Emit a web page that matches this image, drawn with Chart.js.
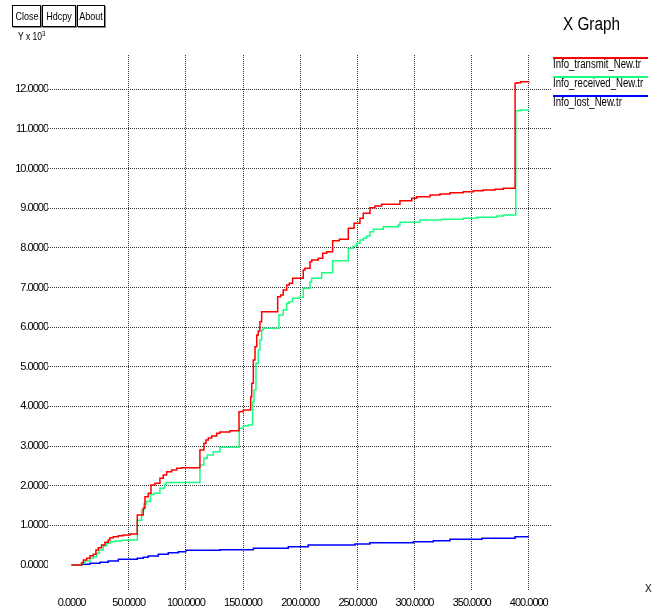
<!DOCTYPE html>
<html>
<head>
<meta charset="utf-8">
<title>X Graph</title>
<script src="https://cdn.jsdelivr.net/npm/chart.js@4/dist/chart.umd.min.js"></script>
<style>
  body { margin: 0; background: #fff; }
  #wrap { position: relative; width: 659px; height: 612px; overflow: hidden;
          font-family: 'Liberation Sans', Arial, sans-serif; color: #000; line-height: 1; }
  #chart { position: absolute; left: 0; top: 0; }
  .btn { position: absolute; top: 5px; height: 20px; border: 1px solid #000; box-shadow: 1px 1px 0 #888;
         background: #fff; overflow: hidden; }
  .btn span { position: absolute; left: 50%; top: 5px; font-size: 11px; white-space: nowrap;
              transform: translateX(-50%) scaleX(0.82); }
  .sq { position: absolute; white-space: nowrap; transform-origin: 0 0; }
  #ylab { left: 18px; top: 30px; font-size: 10px; transform: scaleX(0.85); }
  #ylab sup { font-size: 7px; vertical-align: 4px; }
  #title { left: 563px; top: 15px; font-size: 18px; transform: scaleX(0.85); }
  #xlab { left: 645px; top: 584px; font-size: 10px; }
  .key { position: absolute; left: 553px; width: 95px; height: 2px; }
  .keytxt { font-size: 12px; left: 553px; transform: scaleX(0.8); }
</style>
</head>
<body>
<div id="wrap">
  <canvas id="chart" width="659" height="612"></canvas>
  <div class="btn" style="left:12px;width:27px;"><span>Close</span></div>
  <div class="btn" style="left:42px;width:32px;"><span>Hdcpy</span></div>
  <div class="btn" style="left:77px;width:26px;"><span>About</span></div>
  <div id="ylab" class="sq">Y x 10<sup>3</sup></div>
  <div id="title" class="sq">X Graph</div>
  <div id="xlab" class="sq">X</div>
  <div id="legend"></div>
</div>
<script>
// axis ticks
const xTicks = [0, 50, 100, 150, 200, 250, 300, 350, 400];
const yTicks = [0, 1000, 2000, 3000, 4000, 5000, 6000, 7000, 8000, 9000, 10000, 11000, 12000];

// series names / colours
const seriesNames = ["Info_transmit_New.tr", "Info_received_New.tr", "Info_lost_New.tr"];
const seriesColors = ["#ff0000", "#1aff80", "#0000ff"];

// Info_transmit_New.tr
const transmitT = [0, 8.8, 10.3, 13.2, 16.1, 19, 21.3, 23.4, 26.3, 29.2, 32.1, 33.6, 36.5, 40.9, 45.2, 51.1,
  57.5, 62.7, 64.2, 67.1, 69.5, 73, 77.3, 80.2, 83.2, 87.6, 92, 96.3, 112.3, 115.8, 117.6, 119.6, 122.6, 127,
  129.8, 138.6, 146.5, 150.2, 156.7, 157.6, 159, 160.5, 162, 163.3, 164.8, 166.3, 180.3, 183, 185.2, 188.2,
  190.5, 193.4, 202.7, 204.2, 208.6, 210.1, 215.8, 219.7, 223.2, 228.4, 234.2, 242.1, 247.1, 252.3, 255.2,
  261.1, 265.4, 271.3, 287.3, 297.6, 301.9, 313.6, 322.3, 331.1, 342.7, 351.5, 360.2, 370.4, 377.7, 388,
  389.4, 392.9, 400];
const transmitV = [0, 58, 126, 169, 235, 270, 378, 436, 505, 573, 631, 689, 714, 739, 757, 782,
  1261, 1430, 1723, 1809, 2018, 2061, 2187, 2270, 2354, 2397, 2439, 2455, 2901, 3070, 3153, 3204, 3254, 3322,
  3355, 3388, 3867, 3910, 4246, 4584, 5172, 5507, 5802, 5903, 6138, 6390, 6768, 6811, 6937, 7064,
  7107, 7233, 7442, 7485, 7652, 7694, 7737, 7863, 7904, 8181, 8216, 8494, 8620, 8746, 8872,
  9014, 9056, 9099, 9190, 9251, 9291, 9334, 9359, 9392, 9417, 9442, 9460, 9478, 9503, 12152,
  12167, 12193, 12210];

// Info_received_New.tr
const receivedT = [0, 8.8, 11.7, 16.1, 19, 22, 24.2, 27.7, 30.7, 33.6, 38, 43.8, 49.6, 57.5, 61.3, 63.3,
  65.2, 69, 71.9, 77.3, 81.3, 82.8, 112.3, 115.8, 118.7, 124, 129.8, 146.7, 150.2, 154.6, 158.4, 159.6,
  161.3, 163.3, 164.8, 166.3, 167.7, 181.4, 185.2, 188.2, 190.5, 193.4, 199.2, 202.7, 208.6, 210.1, 218.8,
  228.4, 242.1, 246.5, 249.4, 252.3, 255.2, 258.2, 261.1, 264, 272.7, 285.8, 287.3, 304.8, 323.8, 342.7,
  354.4, 371.9, 377.7, 388.6, 392.3, 400];
const receivedV = [0, 43, 101, 169, 210, 295, 378, 487, 547, 588, 605, 623, 631, 1130, 1380, 1540,
  1600, 1780, 1809, 1935, 2030, 2080, 2523, 2692, 2775, 2858, 2969, 3449, 3507, 3532, 4120, 4415,
  5088, 5424, 5676, 5928, 5971, 6307, 6433, 6602, 6642, 6728, 6753, 6980, 7147, 7233, 7374,
  7677, 7989, 8047, 8116, 8199, 8242, 8300, 8408, 8469, 8534, 8577, 8645, 8703, 8721, 8746,
  8771, 8804, 8830, 11461, 11478, 11503];

// Info_lost_New.tr
const lostT = [0, 8.8, 16.1, 24.8, 32.1, 40.9, 57.5, 62.7, 67.1, 75.9, 84.6, 93.4, 100.1, 129.8, 159,
  189.6, 207, 248, 261, 299, 316.5, 331, 359, 388, 400];
const lostV = [0, 18, 43, 68, 101, 144, 169, 194, 227, 270, 310, 336, 371, 386, 421,
  462, 505, 530, 563, 588, 613, 648, 674, 714, 714];

const tickFont = { family: "'Liberation Sans', Arial, sans-serif", size: 11 };
const gridColor = c => (c.tick && c.tick.value === 0) ? 'rgba(0,0,0,0)' : '#333';

function pts(t, v) { return t.map((x, i) => ({ x: x, y: v[i] })); }

const allT = [transmitT, receivedT, lostT];
const allV = [transmitV, receivedV, lostV];

// tick labels of the original are a narrow font: tighten the spacing
const tightText = {
  id: "tightText",
  beforeDraw(chart) { chart.ctx.letterSpacing = "-1px"; }
};

new Chart(document.getElementById("chart").getContext("2d"), {
  type: "line",
  data: {
    datasets: seriesNames.map((name, i) => ({
      label: name,
      data: pts(allT[i], allV[i]),
      borderColor: seriesColors[i],
      borderWidth: 1.5,
      pointRadius: 0,
      stepped: true,
      fill: false
    }))
  },
  options: {
    responsive: false,
    animation: false,
    devicePixelRatio: 1,
    layout: { padding: { left: 0, right: 107, top: 55, bottom: 0 } },
    plugins: { legend: { display: false }, tooltip: { enabled: false } },
    scales: {
      x: {
        type: "linear",
        min: -20.6,
        max: 420.3,
        afterBuildTicks: s => { s.ticks = xTicks.map(v => ({ value: v })); },
        afterFit: s => { s.height = 22; },
        ticks: { callback: v => Number(v).toFixed(4), font: tickFont, color: "#000", padding: 6, maxRotation: 0, autoSkip: false },
        grid: { color: gridColor, drawTicks: false, lineWidth: 1 },
        border: { display: false, dash: [1, 1] }
      },
      y: {
        type: "linear",
        min: -631,
        max: 12866,
        afterBuildTicks: s => { s.ticks = yTicks.map(v => ({ value: v })); },
        afterFit: s => { s.width = 48; },
        ticks: { callback: v => (v / 1000).toFixed(4), font: tickFont, color: "#000", padding: 0, autoSkip: false },
        grid: { color: gridColor, drawTicks: false, lineWidth: 1 },
        border: { display: false, dash: [1, 1] }
      }
    }
  },
  plugins: [tightText]
});

// legend: coloured line above each name
const legend = document.getElementById("legend");
const keyTop = [56.5, 76, 94.5];
seriesNames.forEach((name, i) => {
  legend.innerHTML += `<div class="key" style="top:${keyTop[i]}px;background:${seriesColors[i]}"></div>
    <div class="sq keytxt" style="top:${keyTop[i] + 1.2}px">${name}</div>`;
});
</script>
</body>
</html>
